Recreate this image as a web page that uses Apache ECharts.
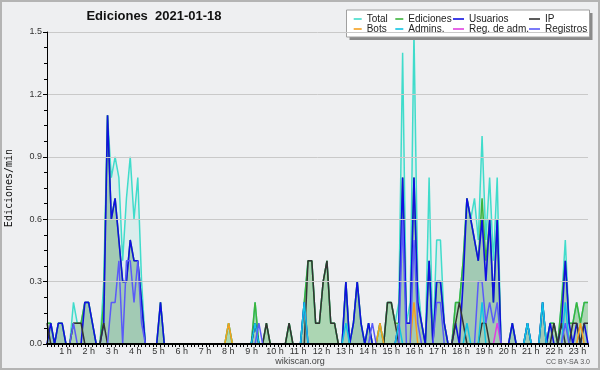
<!DOCTYPE html>
<html>
<head>
<meta charset="utf-8">
<script src="https://cdn.jsdelivr.net/npm/echarts@6/dist/echarts.min.js"></script>
<style>
html,body{margin:0;padding:0;background:#eeeff1;}
#c{width:600px;height:370px;}
</style>
</head>
<body>
<div id="c"></div>
<script>
// 10-minute bins (0 = 00:00 ... 143 = 23:50), values in edits per minute
const HOURS = [1,2,3,4,5,6,7,8,9,10,11,12,13,14,15,16,17,18,19,20,21,22,23];
const Y_TICKS = [0, 0.3, 0.6, 0.9, 1.2, 1.5];

const TOTAL = [
  0.1,0.1,0,0.1,0.1,0,0,0.2,0.1,0.1,0.2,0.2,
  0.1,0,0,0.3,1.1,0.8,0.9,0.8,0.4,0.7,0.9,0.6,
  0.8,0.3,0,0,0,0,0.2,0,0,0,0,0,
  0,0,0,0,0,0,0,0,0,0,0,0,
  0.1,0,0,0,0,0,0,0.2,0,0,0.1,0,
  0,0,0,0,0.1,0,0,0,0.2,0.4,0.4,0.1,
  0.1,0.3,0.4,0.1,0.1,0,0,0.3,0,0.1,0.3,0.1,
  0,0.1,0,0,0.1,0,0.2,0.2,0.1,0.2,1.4,0.1,
  0.2,1.5,0.3,0.1,0,0.8,0,0.5,0.5,0.1,0,0,
  0.2,0.2,0.4,0.7,0.6,0.7,0.5,1.0,0.5,0.8,0.4,0.8,
  0,0,0,0.1,0,0,0,0.1,0,0,0,0.2,
  0,0.1,0.1,0,0.2,0.5,0.1,0.1,0.2,0.1,0.2,0.2
];
const EDICIONES = [
  0.1,0.1,0,0.1,0.1,0,0,0.1,0.1,0.1,0.2,0.2,
  0.1,0,0,0.2,1.1,0.6,0.7,0.5,0.3,0.3,0.5,0.4,
  0.4,0.2,0,0,0,0,0.2,0,0,0,0,0,
  0,0,0,0,0,0,0,0,0,0,0,0,
  0.1,0,0,0,0,0,0,0.2,0,0,0.1,0,
  0,0,0,0,0.1,0,0,0,0.2,0.4,0.4,0.1,
  0.1,0.3,0.4,0.1,0.1,0,0,0.3,0,0.1,0.3,0.1,
  0,0.1,0,0,0.1,0,0.2,0.2,0.1,0.1,0.8,0.1,
  0.1,0.8,0.2,0.1,0,0.4,0,0.3,0.3,0.1,0,0,
  0.2,0.2,0.4,0.7,0.6,0.5,0.4,0.7,0.4,0.6,0.2,0.6,
  0,0,0,0.1,0,0,0,0.1,0,0,0,0.2,
  0,0.1,0.1,0,0.2,0.4,0.1,0.1,0.2,0.1,0.2,0.2
];
const USUARIOS = [
  0,0.1,0,0.1,0.1,0,0,0,0,0,0.2,0.2,
  0.1,0,0,0.1,1.1,0.6,0.7,0.5,0.3,0.3,0.5,0.4,
  0.4,0.2,0,0,0,0,0.2,0,0,0,0,0,
  0,0,0,0,0,0,0,0,0,0,0,0,
  0,0,0,0,0,0,0,0.1,0,0,0,0,
  0,0,0,0,0,0,0,0,0.2,0,0,0,
  0,0,0,0,0,0,0,0.3,0,0.1,0.3,0.1,
  0,0.1,0,0,0,0,0,0,0,0.1,0.8,0.1,
  0.1,0.8,0.2,0.1,0,0.4,0,0.3,0.3,0.1,0,0,
  0.1,0,0.3,0.7,0.6,0.5,0.4,0.6,0.3,0.6,0.2,0.6,
  0,0,0,0.1,0,0,0,0.1,0,0,0,0.2,
  0,0.1,0,0,0.1,0.4,0.1,0,0.1,0,0.1,0
];
const IP = [
  0.1,0,0,0,0,0,0,0.1,0.1,0.1,0,0,
  0,0,0,0.1,0,0,0,0,0,0,0,0,
  0,0,0,0,0,0,0,0,0,0,0,0,
  0,0,0,0,0,0,0,0,0,0,0,0,
  0,0,0,0,0,0,0,0.1,0,0,0.1,0,
  0,0,0,0,0.1,0,0,0,0,0.4,0.4,0.1,
  0.1,0.3,0.4,0.1,0.1,0,0,0,0,0,0,0,
  0,0,0,0,0,0,0.2,0.2,0.1,0,0,0,
  0,0,0,0,0,0,0,0,0,0,0,0,
  0.1,0.2,0.1,0,0,0,0,0.1,0.1,0,0,0,
  0,0,0,0,0,0,0,0,0,0,0,0,
  0,0,0.1,0,0.1,0,0,0.1,0.1,0,0.1,0.1
];
const BOTS = [
  0,0,0,0,0,0,0,0,0,0,0,0,
  0,0,0,0,0,0,0,0,0,0,0,0,
  0,0,0,0,0,0,0,0,0,0,0,0,
  0,0,0,0,0,0,0,0,0,0,0,0,
  0.1,0,0,0,0,0,0,0,0,0,0,0,
  0,0,0,0,0,0,0,0,0,0,0,0,
  0,0,0,0,0,0,0,0,0,0,0,0,
  0,0,0,0,0.1,0,0,0,0,0,0,0,
  0,0.2,0,0,0,0,0,0,0,0,0,0,
  0,0,0,0,0,0,0,0,0,0,0,0,
  0,0,0,0,0,0,0,0,0,0,0,0,
  0,0,0,0,0,0,0,0,0,0.1,0,0
];
const ADMINS = [
  0,0,0,0,0,0,0,0,0,0,0,0,
  0,0,0,0,0,0,0,0,0,0,0,0,
  0,0,0,0,0,0,0,0,0,0,0,0,
  0,0,0,0,0,0,0,0,0,0,0,0,
  0,0,0,0,0,0,0,0.1,0,0,0,0,
  0,0,0,0,0,0,0,0,0.2,0,0,0,
  0,0,0,0,0,0,0,0.1,0,0,0,0,
  0,0,0,0,0,0,0,0,0,0.1,0,0,
  0,0,0,0,0,0,0,0,0,0,0,0,
  0,0,0,0.1,0,0,0,0.2,0,0,0,0,
  0,0,0,0,0,0,0,0.1,0,0,0,0.2,
  0,0,0,0,0,0.2,0,0,0,0,0,0
];
const REG_ADM = [
  0,0,0,0,0,0,0,0,0,0,0,0,
  0,0,0,0,0,0,0,0,0,0,0,0,
  0,0,0,0,0,0,0,0,0,0,0,0,
  0,0,0,0,0,0,0,0,0,0,0,0,
  0,0,0,0,0,0,0,0,0,0,0,0,
  0,0,0,0,0,0,0,0,0,0,0,0,
  0,0,0,0,0,0,0,0,0,0,0,0,
  0,0,0,0,0,0,0,0,0,0,0,0,
  0,0,0,0,0,0,0,0,0,0,0,0,
  0,0,0,0,0,0,0,0,0,0,0,0.1,
  0,0,0,0,0,0,0,0,0,0,0,0,
  0,0,0,0,0,0,0,0,0,0,0,0
];
const REGISTROS = [
  0,0,0,0,0,0,0,0.1,0,0,0,0,
  0,0,0,0,0,0.2,0.2,0.4,0,0.4,0.4,0.2,
  0.4,0.1,0,0,0,0,0,0,0,0,0,0,
  0,0,0,0,0,0,0,0,0,0,0,0,
  0,0,0,0,0,0,0,0,0.1,0,0,0,
  0,0,0,0,0,0,0,0,0,0,0,0,
  0,0,0,0,0,0,0,0,0,0,0,0,
  0,0,0.1,0,0,0,0,0,0,0,0.6,0,
  0,0.5,0.1,0,0,0,0,0.2,0.2,0,0,0,
  0,0,0,0,0,0,0.3,0.3,0.1,0.2,0.1,0.2,
  0,0,0,0,0,0,0,0,0,0,0,0,
  0,0,0,0,0,0.1,0,0,0,0,0,0
];

const COL = {
  total:'#40dccb', ed:'#3cb43c', usu:'#1010e0', ip:'#333333',
  bots:'#f5a020', adm:'#10c4e4', regadm:'#e040e0', reg:'#5a5af8'
};

const pts = arr => arr.map((v, i) => [i, v]);

function line(name, arr, color, extra) {
  return Object.assign({
    name: name, type: 'line', data: pts(arr), xAxisIndex: 0, yAxisIndex: 0,
    symbol: 'none', showSymbol: false, silent: true, animation: false,
    color: color, itemStyle: {color: color},
    lineStyle: {color: color, width: 1.5}, z: 2
  }, extra || {});
}

const legendBase = {
  padding: 0, icon: 'rect', itemWidth: 8, itemHeight: 1.6, selectedMode: false, z: 10,
  textStyle: {fontFamily: 'Liberation Sans', fontSize: 10, color: '#222', lineHeight: 12}
};
function lg(name, left, top, w) {
  return Object.assign({}, legendBase, {data: [name], left: left, top: top, itemWidth: w});
}

const chart = echarts.init(document.getElementById('c'), null, {renderer: 'canvas'});
chart.setOption({
  backgroundColor: '#eeeff1',
  animation: false,
  grid: {left: 47, right: 12, top: 32, bottom: 26, containLabel: false, outerBoundsMode: 'none'},
  xAxis: [
    {
      type: 'value', min: 0, max: 143, interval: 1, z: 10,
      axisLine: {lineStyle: {color: '#000', width: 2}},
      axisTick: {length: 3, lineStyle: {color: '#000'}},
      axisLabel: {show: false},
      splitLine: {show: false}
    },
    {
      type: 'value', min: 0.2063, max: 23.455, position: 'bottom',
      axisLine: {show: false}, axisTick: {show: false}, splitLine: {show: false},
      axisLabel: {
        customValues: HOURS, margin: 3,
        formatter: v => v + ' h',
        fontFamily: 'Liberation Sans', fontSize: 9, color: '#333'
      }
    }
  ],
  yAxis: {
    type: 'value', min: 0, max: 1.5, interval: 0.3, z: 10,
    name: 'Ediciones/min', nameLocation: 'middle', nameGap: 33, nameRotate: 90,
    nameMoveOverlap: false,
    nameTextStyle: {fontFamily: 'DejaVu Sans Mono', fontSize: 10, color: '#111'},
    axisLine: {show: true, lineStyle: {color: '#000', width: 1}},
    axisTick: {show: true, length: 4, lineStyle: {color: '#000'}},
    minorTick: {show: true, splitNumber: 4, length: 3, lineStyle: {color: '#000'}},
    axisLabel: {
      margin: 5, fontFamily: 'Liberation Sans', fontSize: 9, color: '#333',
      formatter: v => Y_TICKS.indexOf(Math.round(v * 10) / 10) >= 0 ? (Math.round(v * 10) / 10).toFixed(1) : ''
    },
    splitLine: {show: true, lineStyle: {color: '#c9c9c9', width: 1}}
  },
  legend: [
    lg('Total', 353.7, 13, 8),
    lg('Ediciones', 395.3, 13, 8),
    lg('Usuarios', 453, 13, 11),
    lg('IP', 529, 13, 11),
    lg('Bots', 353.7, 23, 8),
    lg('Admins.', 395.3, 23, 8),
    lg('Reg. de adm.', 453, 23, 11),
    lg('Registros', 529, 23, 11)
  ],
  series: [
    line('Total', TOTAL, COL.total, {areaStyle: {color: 'rgba(64,224,208,0.15)'}}),
    line('Ediciones', EDICIONES, COL.ed, {areaStyle: {color: 'rgba(60,160,40,0.42)'}}),
    line('Usuarios', USUARIOS, COL.usu, {areaStyle: {color: 'rgba(0,0,200,0.08)'}, lineStyle: {color: COL.usu, width: 1.6}}),
    line('IP', IP, COL.ip),
    line('Bots', BOTS, COL.bots),
    line('Admins.', ADMINS, COL.adm),
    line('Reg. de adm.', REG_ADM, COL.regadm),
    line('Registros', REGISTROS, COL.reg)
  ],
  graphic: {
    elements: [
      {type: 'rect', silent: true, z: 0, shape: {x: 1, y: 1, width: 598, height: 368},
       style: {fill: null, stroke: '#b4b4b4', lineWidth: 2}},
      {type: 'text', silent: true, z: 6, x: 154, y: 16,
       style: {text: 'Ediciones  2021-01-18', align: 'center', verticalAlign: 'middle',
               font: 'bold 13px "Liberation Sans"', fill: '#111'}},
      {type: 'rect', silent: true, z: 6, shape: {x: 349.5, y: 13, width: 243, height: 27},
       style: {fill: '#8a8a8a'}},
      {type: 'rect', silent: true, z: 7, shape: {x: 346.5, y: 10, width: 243, height: 27},
       style: {fill: '#ffffff', stroke: '#a0a0a0', lineWidth: 1}},
      {type: 'text', silent: true, z: 6, x: 300, y: 362,
       style: {text: 'wikiscan.org', align: 'center', verticalAlign: 'middle',
               font: '9px "Liberation Sans"', fill: '#444'}},
      {type: 'text', silent: true, z: 6, x: 590, y: 362,
       style: {text: 'CC BY-SA 3.0', align: 'right', verticalAlign: 'middle',
               font: '7px "Liberation Sans"', fill: '#555'}}
    ]
  }
});
</script>
</body>
</html>
